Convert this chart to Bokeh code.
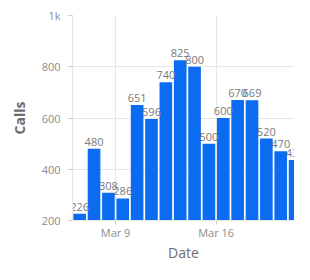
from datetime import datetime, timedelta
from bokeh.plotting import figure
from bokeh.models import ColumnDataSource, FixedTicker, DatetimeTickFormatter, Range1d
from bokeh.core.properties import value
from bokeh.embed import file_html
from bokeh.resources import INLINE

dates = ["2020-03-06", "2020-03-07", "2020-03-08", "2020-03-09", "2020-03-10",
         "2020-03-11", "2020-03-12", "2020-03-13", "2020-03-14", "2020-03-15",
         "2020-03-16", "2020-03-17", "2020-03-18", "2020-03-19", "2020-03-20",
         "2020-03-21"]
calls = [226, 480, 308, 286, 651, 596, 740, 825, 800, 500, 600, 670, 669, 520, 470, 436]
y_ticks = [200, 400, 600, 800, 1000]
x_tick_dates = ["2020-03-09", "2020-03-16"]
x_title = "Date"
y_title = "Calls"

DAY = 86400000.0
starts = [datetime.strptime(d, "%Y-%m-%d") for d in dates]
centers = [s + timedelta(hours=12) for s in starts]
src = ColumnDataSource(dict(x=centers, top=calls, label=[str(c) for c in calls]))

FONT = "Open Sans"
x0 = starts[0]
x1 = starts[-1] + timedelta(hours=11)

p = figure(width=294, height=264, x_axis_type="datetime",
           x_range=Range1d(x0, x1), y_range=Range1d(200, 1000),
           output_backend="svg", toolbar_location=None,
           min_border_left=72, min_border_right=0, min_border_top=15, min_border_bottom=38)
p.outline_line_color = None
p.background_fill_color = "white"

p.vbar(x="x", top="top", bottom=200, width=DAY * 0.88, source=src,
       fill_color="#0b6cf2", line_color=None)
p.text(x="x", y="top", text="label", source=src, text_align="center",
       text_baseline="bottom", y_offset=-3, text_font=value(FONT),
       text_font_size="11px", text_color="#7a7a7a")

tick_ms = [(datetime.strptime(d, "%Y-%m-%d") - datetime(1970, 1, 1)).total_seconds() * 1000 for d in x_tick_dates]
p.xaxis.ticker = FixedTicker(ticks=tick_ms)
p.xaxis.formatter = DatetimeTickFormatter(days="%b %-d", months="%b %-d")
p.yaxis.ticker = FixedTicker(ticks=y_ticks)
p.yaxis.major_label_overrides = {1000: "1k"}

for ax in (p.xaxis[0], p.yaxis[0]):
    ax.axis_line_color = "#e6e6e6"
    ax.major_tick_line_color = "#cccccc"
    ax.minor_tick_line_color = None
    ax.major_tick_in = 0
    ax.major_tick_out = 4
    ax.major_label_text_font = FONT
    ax.major_label_text_font_size = "11px"
    ax.major_label_text_color = "#8c8c8c"
    ax.axis_label_text_font = FONT
    ax.axis_label_text_font_size = "14px"
    ax.axis_label_text_color = "#6e6e6e"

p.yaxis.major_label_standoff = 8
p.xaxis.major_label_standoff = 0
p.yaxis.axis_label = y_title
p.yaxis.axis_label_text_font_style = "bold"
p.yaxis.axis_label_standoff = 10
p.xaxis.axis_label = x_title
p.xaxis.axis_label_text_font_style = "normal"
p.xaxis.axis_label_standoff = 0

p.grid.grid_line_color = "#e6e6e6"
p.xgrid.ticker = FixedTicker(ticks=tick_ms)

open("out.html", "w").write(file_html(p, INLINE))
